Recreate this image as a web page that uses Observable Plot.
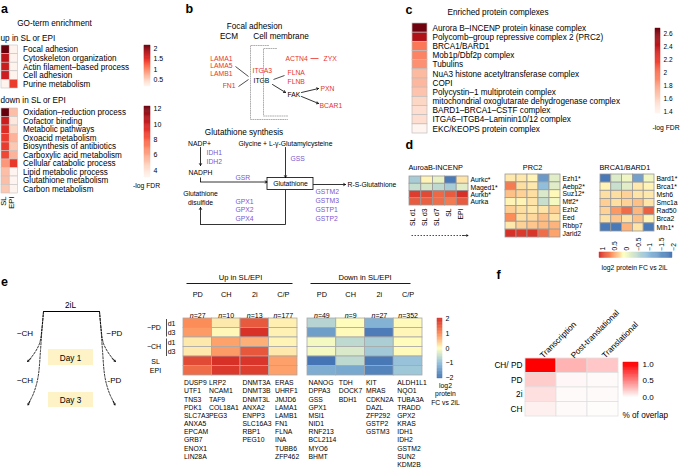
<!DOCTYPE html>
<html><head><meta charset="utf-8">
<script src="https://cdn.jsdelivr.net/npm/d3@7"></script>
<script src="https://cdn.jsdelivr.net/npm/@observablehq/plot@0.6"></script>
<style>
html,body{margin:0;padding:0;background:#fff;}
#root{position:relative;width:681px;height:470px;overflow:hidden;background:#fff;}
#root svg{position:absolute;overflow:visible;}
</style></head><body><div id="root"></div>
<script>
// ---------------- DATA ----------------
// Panel a
const goSamples = ["SL","EPI"];
const goUpTerms = ["Focal adhesion","Cytoskeleton organization","Actin filament–based process","Cell adhesion","Purine metabolism"];
const goUpSL  = [2.15, 1.76, 1.66, 1.65, 0.22];
const goUpEPI = [0.22, 0.22, 0.22, 0.22, 1.42];
const goDownTerms = ["Oxidation–reduction process","Cofactor binding","Metabolic pathways","Oxoacid metabolism","Biosynthesis of antibiotics","Carboxylic acid metabolism","Cellular catabolic process","Lipid metabolic process","Glutathione metabolism","Carbon metabolism"];
const goDownSL  = [12.3, 10.0, 9.4, 8.9, 8.9, 8.6, 6.4, 5.3, 5.3, 5.0];
const goDownEPI = [5.3, 3.8, 4.5, 5.6, 5.0, 5.6, 9.0, 3.15, 3.15, 3.2];
const goUpTicks = [0.5, 1, 1.5, 2];
const goDownTicks = [4, 6, 8, 10, 12];

// Panel c
const complexes = ["Aurora B–INCENP protein kinase complex","Polycomb–group repressive complex 2 (PRC2)","BRCA1/BARD1","Mob1p/Dbf2p complex","Tubulins","NuA3 histone acetyltransferase complex","COPI","Polycystin–1 multiprotein complex","mitochondrial oxoglutarate dehydrogenase complex","BARD1–BRCA1–CSTF complex","ITGA6–ITGB4–Laminin10/12 complex","EKC/KEOPS protein complex"];
const complexFDR = [2.66, 2.46, 1.97, 1.92, 1.87, 1.70, 1.71, 1.66, 1.57, 1.53, 1.53, 1.37];
const complexTicks = [1.4, 1.6, 1.8, 2, 2.2, 2.4, 2.6];

// Panel d
const dSamples = ["SL d1","SL d3","SL d7","SL","EPI"];
const auroraGenes = ["Aurkc*","Maged1*","Aurkb*","Aurka"];
const auroraFC = [
  [-0.8, 0.05, -0.2, -1.93, 0.12],
  [-0.52, -0.37, -0.6, -0.8, -0.28],
  [0.93, 0.86, 0.7, 0.77, 1.0],
  [0.77, 0.75, 0.67, 0.6, 0.77]];
const prc2Genes = ["Ezh1*","Aebp2*","Suz12*","Mtf2*","Ezh2","Eed","Rbbp7","Jarid2"];
const prc2FC = [
  [0.1, 0.1, 0.05, -1.5, -0.28],
  [0.59, 0.14, 0.1, -1.0, -0.28],
  [0.27, 0.2, 0.14, -0.35, 0.03],
  [0.05, 0.05, 0.12, -0.5, -0.1],
  [0.21, 0.14, 0.1, 0.12, 0.21],
  [0.5, 0.14, 0.17, 0.27, 0.12],
  [0.1, 0.2, 0.25, 0.3, 0.33],
  [1.0, 0.95, 0.97, 0.67, 0.4]];
const brcaGenes = ["Bard1*","Brca1*","Msh6","Smc1a","Rad50","Brca2","Mlh1*"];
const brcaFC = [
  [-1.95, -0.32, -0.15, -1.4, -0.12],
  [0.05, -0.5, -0.28, 0.1, 0.05],
  [0.14, 0.14, 0.2, 0.12, 0.1],
  [0.21, 0.14, 0.2, 0.27, 0.12],
  [0.2, 0.45, 0.67, 0.32, 0.73],
  [0.13, 0.25, 0.13, 0.27, 0.05],
  [-1.95, -1.95, 0.33, 0.12, -1.95]];
const dTicks = [1, 0.5, 0, -0.5, -1, -1.5, -2];

// Panel e
const eConds = ["PD","CH","2i","C/P"];
const eRows = ["−PD d1","−PD d3","−CH d1","−CH d3","SL","EPI"];
const eUpN = [27, 10, 13, 177];
const eDownN = [49, 9, 27, 352];
const eUpFC = [
  [1.0, 0.19, 1.55, 0.13],
  [0.88, 0.07, 1.99, 0.12],
  [0.19, 0.82, 0.7, 0.1],
  [0.2, 0.88, 1.58, 0.2],
  [1.72, 2.0, 1.95, 0.83],
  [1.35, 1.9, 1.85, 0.83]];
const eDownFC = [
  [-0.67, 0.03, -1.18, 0.05],
  [-1.45, 0.05, -1.9, 0.08],
  [-0.1, -0.6, -0.76, 0.03],
  [-0.1, -0.34, -0.85, 0.05],
  [-2.0, -0.6, -1.96, -0.95],
  [-1.25, -1.3, -1.8, -0.88]];
const eUpGenes = [
  ["DUSP9","UTF1","TNS3","PDK1","SLC7A3","ANXA5","EPCAM","GRB7","ENOX1","LIN28A"],
  ["LRP2","NCAM1","TAF9","COL18A1","PEG3"],
  ["DNMT3A","DNMT3B","DNMT3L","ANXA2","ENPP3","SLC16A3","RBP1","PEG10"],
  ["ERAS","UHRF1","JMJD6","LAMA1","LAMB1","FN1","FLNA","INA","TUBB6","ZFP462"]];
const eDownGenes = [
  ["NANOG","DPPA3","GSS","GPX1","MSI1","NID1","RNF213","BCL2114","MYO6","BHMT"],
  ["TDH","DOCK7","BDH1"],
  ["KIT","MRAS","CDKN2A","DAZL","ZFP292","GSTP2","GSTM3"],
  ["ALDH1L1","NQO1","TUBA3A","TRADD","GPX2","KRAS","IDH1","IDH2","GSTM2","SUN2","KDM2B"]];
const eTicks = [2, 1, 0, -1, -2];

// Panel f
const fRows = ["CH/ PD","PD","2i","CH"];
const fCols = ["Transcription","Post-translational","Translational"];
const fOverlap = [
  [1.0, 0.3, 0.22],
  [0.2, 0.03, 0.02],
  [0.12, 0.02, 0.02],
  [0.06, 0.02, 0.01]];
const fTicks = [0, 0.5, 1];

// ---------------- HELPERS ----------------
const FONT = "'Liberation Sans', Arial, Helvetica, sans-serif";
const root = document.getElementById("root");
function place(el, l, t) { el.style.position = "absolute"; el.style.left = l + "px"; el.style.top = t + "px"; root.appendChild(el); }
const st = fs => ({background: "transparent", fontFamily: FONT, fontSize: fs + "px", overflow: "visible", color: "#000"});

function heat({cols, rows, values, frame, m = {}, color, stroke = "#b0b0b0", sw = 0.7, marks = [], fontSize = 8}) {
  const data = [];
  rows.forEach((r, i) => cols.forEach((c, j) => data.push({r, c, v: values[i][j]})));
  const [x0, y0, x1, y1] = frame;
  const mt = m.t || 0, mr = m.r || 0, mb = m.b || 0, ml = m.l || 0;
  const svg = Plot.plot({
    width: ml + x1 - x0 + mr, height: mt + y1 - y0 + mb,
    marginTop: mt, marginRight: mr, marginBottom: mb, marginLeft: ml,
    x: {domain: cols, padding: 0, round: false, axis: null, label: null},
    y: {domain: rows, padding: 0, round: false, axis: null, label: null},
    color, style: st(fontSize),
    marks: [Plot.cell(data, {x: "c", y: "r", fill: "v", stroke, strokeWidth: sw, inset: 0}), ...marks]
  });
  place(svg, x0 - ml, y0 - mt);
  return svg;
}
function rampSteps(lo, hi, n = 80) { return d3.range(n).map(i => [lo + (hi - lo) * i / n, lo + (hi - lo) * (i + 1) / n]); }
function vbar({domain, color, frame, ticks, fmt = d3.format("~g"), fontSize = 7, dx = 3}) {
  const [lo, hi] = domain, [x0, y0, x1, y1] = frame, mr = 30;
  const svg = Plot.plot({
    width: x1 - x0 + mr, height: y1 - y0, marginTop: 0, marginBottom: 0, marginLeft: 0, marginRight: mr,
    x: {domain: [0, 1], axis: null}, y: {domain: [lo, hi], axis: null}, color, style: st(fontSize),
    marks: [
      Plot.rect(rampSteps(lo, hi), {x1: 0, x2: 1, y1: d => d[0], y2: d => d[1], fill: d => (d[0] + d[1]) / 2, stroke: d => (d[0] + d[1]) / 2, strokeWidth: 0.4}),
      Plot.text(ticks, {y: d => d, frameAnchor: "right", textAnchor: "start", dx, text: fmt, fontSize})
    ]
  });
  place(svg, x0, y0);
}
function hbar({domain, color, frame, ticks, fmt = d3.format("~g"), fontSize = 6.8}) {
  const [a, b] = domain, [x0, y0, x1, y1] = frame, mt = 20;
  const svg = Plot.plot({
    width: x1 - x0, height: y1 - y0 + mt, marginTop: mt, marginBottom: 0, marginLeft: 0, marginRight: 0,
    x: {domain: [a, b], axis: null}, y: {domain: [0, 1], axis: null}, color, style: st(fontSize),
    marks: [
      Plot.rect(rampSteps(a, b), {y1: 0, y2: 1, x1: d => d[0], x2: d => d[1], fill: d => (d[0] + d[1]) / 2, stroke: d => (d[0] + d[1]) / 2, strokeWidth: 0.4}),
      Plot.text(ticks, {x: d => d, frameAnchor: "top", rotate: -90, textAnchor: "start", dy: -2, text: fmt, fontSize})
    ]
  });
  place(svg, x0, y0 - mt);
}

// ---------------- COLOR SCALES ----------------
const aUpColor = {type: "linear", scheme: "reds", domain: [0.2, 2.15], clamp: true};
const aDownColor = {type: "linear", scheme: "reds", domain: [3.1, 12.3], clamp: true};
const cColor = {type: "linear", scheme: "reds", domain: [1.37, 2.68], clamp: true};
const dColor = {type: "linear", domain: [-2, -1, 0, 0.5, 1], range: ["#4575b4", "#91bfdb", "#ffffbf", "#fc8d59", "#d73027"], interpolate: "rgb", clamp: true};
const eColor = {type: "linear", domain: [-2, -1, 0, 1, 2], range: ["#4575b4", "#91bfdb", "#ffffbf", "#fc8d59", "#d73027"], interpolate: "rgb", clamp: true};
const fColor = {type: "linear", domain: [0, 1], range: ["#ffffff", "#ff0000"], interpolate: "rgb", clamp: true};

// ---------------- PANEL a ----------------
heat({cols: goSamples, rows: goUpTerms, values: goUpTerms.map((_, i) => [goUpSL[i], goUpEPI[i]]),
  frame: [0.5, 45, 17, 88], m: {r: 130}, color: aUpColor, stroke: "#c4c4c4", sw: 0.6, fontSize: 8.15,
  marks: [Plot.text(goUpTerms, {y: d => d, frameAnchor: "right", textAnchor: "start", dx: 5})]});
heat({cols: goSamples, rows: goDownTerms, values: goDownTerms.map((_, i) => [goDownSL[i], goDownEPI[i]]),
  frame: [0.5, 108, 17, 193], m: {r: 130, b: 25}, color: aDownColor, stroke: "#c4c4c4", sw: 0.6, fontSize: 8.15,
  marks: [Plot.text(goDownTerms, {y: d => d, frameAnchor: "right", textAnchor: "start", dx: 5}),
          Plot.text(goSamples, {x: d => d, frameAnchor: "bottom", rotate: -90, textAnchor: "end", dy: 3, dx: 0.6, fontSize: 7.6})]});
vbar({domain: [0.2, 2.15], color: aUpColor, frame: [144, 45, 150, 86], ticks: goUpTicks, fontSize: 7});
vbar({domain: [3.1, 12.3], color: aDownColor, frame: [144, 106, 150, 177], ticks: goDownTicks, fontSize: 7});

// ---------------- PANEL c ----------------
heat({cols: ["FDR"], rows: complexes, values: complexFDR.map(v => [v]), frame: [412, 23, 427, 133], m: {r: 200},
  color: cColor, stroke: "#bdbdbd", sw: 0.7, fontSize: 8.2,
  marks: [Plot.text(complexes, {y: d => d, frameAnchor: "right", textAnchor: "start", dx: 5})]});
vbar({domain: [1.37, 2.68], color: cColor, frame: [655, 28, 660, 113], ticks: complexTicks, fontSize: 6.5, dx: 3});

// ---------------- PANEL d ----------------
const dLabelMarks = (genes, withCols) => {
  const mk = [Plot.text(genes, {y: d => d, frameAnchor: "right", textAnchor: "start", dx: 2})];
  if (withCols) mk.push(Plot.text(dSamples, {x: d => d, frameAnchor: "bottom", rotate: -90, textAnchor: "end", dy: 3}));
  return mk;
};
heat({cols: dSamples, rows: auroraGenes, values: auroraFC, frame: [409, 176, 468, 205], m: {r: 35, b: 30}, color: dColor, stroke: "#9a9a9a", sw: 0.8, fontSize: 6.8, marks: dLabelMarks(auroraGenes, true)});
heat({cols: dSamples, rows: prc2Genes, values: prc2FC, frame: [505, 174, 560, 237], m: {r: 35}, color: dColor, stroke: "#9a9a9a", sw: 0.8, fontSize: 6.8, marks: dLabelMarks(prc2Genes, false)});
heat({cols: dSamples, rows: brcaGenes, values: brcaFC, frame: [600, 174, 654, 231], m: {r: 30}, color: dColor, stroke: "#9a9a9a", sw: 0.8, fontSize: 6.8, marks: dLabelMarks(brcaGenes, false)});
hbar({domain: [1.05, -2.05], color: dColor, frame: [599, 252, 672, 257.5], ticks: dTicks, fontSize: 6.6});

// ---------------- PANEL e ----------------
function italN(svg) {
  svg.querySelectorAll("text").forEach(t => {
    if (t.childElementCount === 0 && /^n=/.test(t.textContent)) {
      const rest = t.textContent.slice(1);
      t.textContent = "";
      const ts = document.createElementNS("http://www.w3.org/2000/svg", "tspan");
      ts.setAttribute("font-style", "italic");
      ts.textContent = "n";
      t.appendChild(ts);
      t.appendChild(document.createTextNode(rest));
    }
  });
}
function eBlock(frame, vals, ns, genes, gdx, rowLabels) {
  const bw = (frame[2] - frame[0]) / eConds.length, rh = (frame[3] - frame[1]) / eRows.length;
  const marks = [
    Plot.text(eConds, {x: d => d, frameAnchor: "top", dy: -26.5, fontSize: 7.3}),
    Plot.text(eConds, {x: d => d, frameAnchor: "top", dy: -5.5, text: (d, i) => "n=" + ns[i], fontSize: 7}),
    ...eConds.map((c, i) => Plot.text([c], {x: d => d, frameAnchor: "bottom", lineAnchor: "top", textAnchor: "start",
      dx: -bw / 2 + gdx[i], dy: 4, lineHeight: 1.2, fontSize: 6.8, text: () => genes[i].join("\n")}))
  ];
  if (rowLabels) marks.push(
    Plot.text(eRows.slice(0, 4), {y: d => d, frameAnchor: "left", textAnchor: "end", dx: -8, text: d => d.split(" ")[1], fontSize: 7}),
    Plot.text(eRows.slice(4), {y: d => d, frameAnchor: "left", textAnchor: "middle", dx: -28, fontSize: 7}),
    Plot.text([eRows[0], eRows[2]], {y: d => d, frameAnchor: "left", textAnchor: "middle", dx: -29.5, dy: rh / 2, text: d => d.split(" ")[0], fontSize: 7})
  );
  const svg = heat({cols: eConds, rows: eRows, values: vals, frame, m: {t: 50, l: 50, r: 10, b: 100}, color: eColor, stroke: "#a8a8a8", sw: 0.8, fontSize: 7, marks});
  italN(svg);
}
eBlock([183, 317.5, 297, 374.5], eUpFC, eUpN, eUpGenes, [0.5, -3, 2, 6], true);
eBlock([307, 317.5, 422, 374.5], eDownFC, eDownN, eDownGenes, [1, 2.5, 1, 3.5], false);
vbar({domain: [-2.05, 2.05], color: eColor, frame: [437, 318, 442, 378], ticks: eTicks, fontSize: 7, dx: 3});

// ---------------- PANEL f ----------------
heat({cols: fCols, rows: fRows, values: fOverlap, frame: [525, 358, 618, 416], m: {t: 70, l: 40}, color: fColor, stroke: "#e0e0e0", sw: 0.8, fontSize: 8.3,
  marks: [Plot.text(fRows, {y: d => d, frameAnchor: "left", textAnchor: "end", dx: -3}),
          Plot.text(fCols, {x: d => d, frameAnchor: "top", rotate: -45, textAnchor: "start", dy: -4, dx: -2})]});
vbar({domain: [0, 1.05], color: fColor, frame: [623, 362, 638, 397], ticks: fTicks, fmt: d3.format(".1f"), fontSize: 8, dx: 4});

// ---------------- OVERLAY: titles, schematic diagrams ----------------
const RED = "#e63329", PURPLE = "#7a57cf";
const T = (list, o) => Plot.text(list, {x: d => d[0], y: d => d[1], text: d => d[2], ...o});
const SEG = (list, o) => Plot.link(list, {x1: d => d[0], y1: d => d[1], x2: d => d[2], y2: d => d[3], ...o});
const ARR = (list, o) => Plot.arrow(list, {x1: d => d[0], y1: d => d[1], x2: d => d[2], y2: d => d[3], headLength: 4, stroke: "#000", strokeWidth: 0.8, ...o});
const curves = [];
const addCurve = (id, pts) => pts.forEach(p => curves.push({id, x: p[0], y: p[1]}));
addCurve("L1", [[43, 311], [41.5, 328], [39, 343], [33, 354], [28, 360]]);
addCurve("L2", [[43, 311], [41.5, 328], [40, 350], [37.5, 377], [33, 393], [28, 403]]);
addCurve("R1", [[99, 311], [100.5, 328], [103, 343], [109, 354], [114, 360]]);
addCurve("R2", [[99, 311], [100.5, 328], [102, 350], [104.5, 377], [109, 393], [114, 403]]);
const membrane = [];
[[268, 45], [250, 45], [250, 119], [287, 119]].forEach(p => membrane.push({id: "o", x: p[0], y: p[1]}));
[[276, 48], [263, 48], [263, 115.5], [287, 115.5]].forEach(p => membrane.push({id: "i", x: p[0], y: p[1]}));

const overlay = Plot.plot({
  width: 681, height: 470, margin: 0,
  x: {domain: [0, 681], range: [0, 681], axis: null},
  y: {domain: [0, 470], range: [0, 470], axis: null},
  style: st(8),
  marks: [
    // panel letters
    T([[0.5, 8.5, "a"], [185, 8.5, "b"], [405, 9, "c"], [405, 144, "d"], [0.5, 281, "e"], [496, 274, "f"]], {textAnchor: "start", fontWeight: "bold", fontSize: 12.5}),
    // titles
    T([[54, 23, "GO-term enrichment"], [254, 26, "Focal adhesion"], [228.5, 36, "ECM"], [280.5, 36, "Cell membrane"],
       [243.5, 132, "Glutathione synthesis"], [497.5, 12, "Enriched protein complexes"], [70, 305, "2iL"]], {fontSize: 8.2}),
    T([[0, 38, "up in SL or EPI"], [0, 100, "down in SL or EPI"], [622, 415, "% of overlap"]], {textAnchor: "start", fontSize: 8.2}),
    T([[240, 277, "Up in SL/EPI"], [364.5, 277, "Down in SL/EPI"]], {fontSize: 7.6}),
    T([[146, 185, "-log FDR"], [665.5, 127, "-log FDR"], [634, 267, "log2 protein FC vs 2iL"],
       [445, 385, "log2"], [445, 393.5, "protein"], [445, 402, "FC vs 2iL"]], {fontSize: 6.8}),
    T([[408, 167, "AuroaB-INCENP"], [599, 167, "BRCA1/BARD1"]], {textAnchor: "start", fontSize: 7.3}),
    T([[532, 167, "PRC2"]], {fontSize: 7.3}),
    T([[24.5, 333, "−CH"], [114, 333, "−PD"], [24.5, 380, "−CH"], [114, 380, "-PD"]], {fontSize: 8}),
    // b: focal adhesion genes
    T([[232, 58, "LAMA1"], [232, 65.5, "LAMA5"], [232, 73, "LAMB1"], [235, 85, "FN1"]], {textAnchor: "end", fill: RED, fontSize: 6.8}),
    T([[252, 70, "ITGA3"], [287, 72, "FLNA"], [287, 81, "FLNB"], [285, 58, "ACTN4"], [323, 58, "ZYX"], [320, 88, "PXN"], [319, 105, "BCAR1"]], {textAnchor: "start", fill: RED, fontSize: 6.8}),
    T([[253, 80, "ITGB"], [287, 94, "FAK"], [347, 184.5, "R-S-Glutathione"]], {textAnchor: "start", fontSize: 6.8}),
    T([[199, 143, "NADP+"], [200, 172, "NADPH"], [285, 143, "Glycine + L-γ-Glutamylcysteine"], [290, 183.5, "Glutathione"],
       [200, 193, "Glutathione"], [200, 202, "disulfide"]], {fontSize: 6.8}),
    T([[206, 152, "IDH1"], [206, 161.5, "IDH2"], [235, 177.5, "GSR"], [290, 158, "GSS"], [235, 201, "GPX1"], [235, 209.5, "GPX2"], [235, 218, "GPX4"],
       [315, 191, "GSTM2"], [315, 200, "GSTM3"], [315, 209, "GSTP1"], [315, 218, "GSTP2"]], {textAnchor: "start", fill: PURPLE, fontSize: 6.8}),
    // b: links and arrows
    SEG([[235, 66, 248, 76], [238, 86, 248, 79], [273, 79, 284, 75]], {stroke: "#000", strokeWidth: 0.7}),
    SEG([[310, 58, 318, 58]], {stroke: RED, strokeWidth: 0.8}),
    ARR([[272, 84, 285, 92], [301, 92, 318, 88], [301, 96, 318, 103]]),
    Plot.line(membrane, {x: "x", y: "y", z: "id", stroke: "#9a9a9a", strokeWidth: 0.8, strokeDasharray: "1,1.3"}),
    SEG([[200, 177, 200, 181.5], [285, 189.5, 285, 224], [285, 224, 200, 224]], {stroke: "#000", strokeWidth: 0.8}),
    ARR([[200, 147, 200, 165], [285, 147, 285, 177], [200, 181.5, 266.5, 181.5], [313, 184, 345, 184], [200, 224, 200, 207]]),
    Plot.rect([[267, 177.5, 313, 189.5]], {x1: d => d[0], y1: d => d[1], x2: d => d[2], y2: d => d[3], fill: "none", stroke: "#000", strokeWidth: 0.8}),
    // d arrow
    SEG([[411, 235, 463, 235]], {stroke: "#000", strokeWidth: 0.7, strokeDasharray: "1.5,1.5"}),
    ARR([[462, 235, 467.5, 235]], {headLength: 3.5, strokeWidth: 0.7}),
    // e schematic
    Plot.rect([[48, 349, 93, 365], [48, 392, 93, 407]], {x1: d => d[0], y1: d => d[1], x2: d => d[2], y2: d => d[3], fill: "#fdf3c7"}),
    T([[70, 357.5, "Day 1"], [70, 400, "Day 3"]], {fontSize: 8.2}),
    SEG([[43, 311, 99, 311]], {stroke: "#000", strokeWidth: 1}),
    Plot.line(curves, {x: "x", y: "y", z: "id", curve: "catmull-rom", stroke: "#000", strokeWidth: 0.8, strokeDasharray: "2,1.5"}),
    ARR([[30.5, 358, 27, 361], [29.5, 400.5, 27.5, 404.5], [111.5, 358, 115, 361], [112.5, 400.5, 114.5, 404.5]], {headLength: 3.5}),
    SEG([[166, 318.5, 166, 336], [166, 338, 166, 355.5]], {stroke: "#000", strokeWidth: 0.7}),
    SEG([[186, 283, 292, 283], [310, 283, 410, 283]], {stroke: "#000", strokeWidth: 0.9})
  ]
});
place(overlay, 0, 0);
overlay.style.pointerEvents = "none";
</script></body></html>
